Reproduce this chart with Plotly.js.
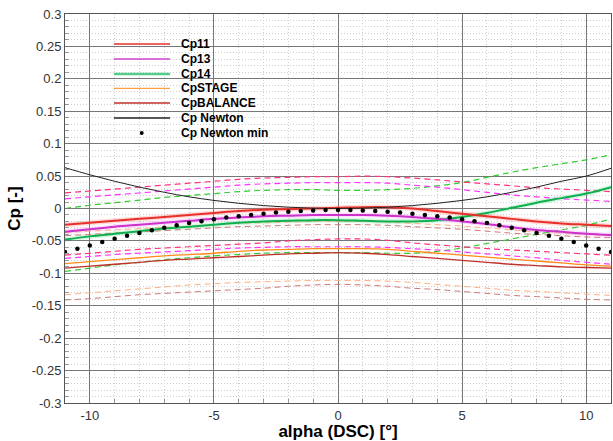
<!DOCTYPE html>
<html>
<head>
<meta charset="utf-8">
<script src="https://cdn.plot.ly/plotly-3.0.1.min.js"></script>
<style>html,body{margin:0;padding:0;background:#fff}#chart{width:613px;height:441px}</style>
</head>
<body>
<div id="chart"></div>
<script>
// alpha (DSC) [deg]
const alpha = [-11,-10,-9,-8,-7,-6,-5,-4,-3,-2,-1,0,1,2,3,4,5,6,7,8,9,10,11];

const cp11      = [-0.025,-0.022,-0.019,-0.016,-0.013,-0.010,-0.007,-0.004,-0.002,-0.001,0.000,0.001,0.002,0.002,0.000,-0.004,-0.008,-0.012,-0.016,-0.020,-0.023,-0.025,-0.027];
const cp11Up    = [0.024,0.027,0.030,0.033,0.036,0.039,0.042,0.045,0.047,0.048,0.049,0.049,0.050,0.049,0.047,0.044,0.041,0.038,0.035,0.032,0.030,0.028,0.026];
const cp11Lo    = [-0.072,-0.069,-0.066,-0.063,-0.061,-0.059,-0.057,-0.055,-0.053,-0.050,-0.048,-0.047,-0.047,-0.049,-0.053,-0.056,-0.059,-0.062,-0.064,-0.066,-0.068,-0.070,-0.072];

const cp13      = [-0.036,-0.032,-0.028,-0.025,-0.022,-0.019,-0.016,-0.014,-0.012,-0.011,-0.010,-0.010,-0.010,-0.011,-0.013,-0.016,-0.020,-0.024,-0.029,-0.033,-0.036,-0.039,-0.041];
const cp13Up    = [0.015,0.018,0.021,0.024,0.027,0.030,0.033,0.036,0.038,0.039,0.040,0.040,0.040,0.039,0.036,0.033,0.029,0.025,0.021,0.018,0.015,0.013,0.011];
const cp13Lo    = [-0.077,-0.074,-0.071,-0.069,-0.067,-0.065,-0.063,-0.061,-0.060,-0.059,-0.059,-0.059,-0.059,-0.060,-0.062,-0.064,-0.067,-0.070,-0.073,-0.076,-0.080,-0.083,-0.086];

const cp14      = [-0.048,-0.043,-0.039,-0.035,-0.031,-0.028,-0.025,-0.022,-0.020,-0.019,-0.018,-0.018,-0.019,-0.020,-0.020,-0.018,-0.013,-0.007,0.001,0.009,0.016,0.023,0.033];
const cp14Up    = [0.000,0.005,0.009,0.013,0.017,0.020,0.023,0.026,0.028,0.029,0.029,0.028,0.028,0.029,0.031,0.035,0.040,0.048,0.056,0.063,0.069,0.075,0.083];
const cp14Lo    = [-0.097,-0.092,-0.087,-0.083,-0.079,-0.076,-0.073,-0.071,-0.069,-0.068,-0.068,-0.068,-0.068,-0.069,-0.069,-0.066,-0.061,-0.054,-0.047,-0.040,-0.033,-0.026,-0.016];

const cpStage   = [-0.085,-0.082,-0.079,-0.076,-0.073,-0.071,-0.069,-0.066,-0.064,-0.063,-0.062,-0.062,-0.062,-0.063,-0.066,-0.069,-0.072,-0.075,-0.078,-0.081,-0.084,-0.087,-0.089];
const cpStageUp = [-0.037,-0.035,-0.033,-0.031,-0.029,-0.027,-0.025,-0.023,-0.022,-0.021,-0.020,-0.020,-0.020,-0.021,-0.023,-0.025,-0.027,-0.030,-0.033,-0.036,-0.038,-0.040,-0.042];
const cpStageLo = [-0.133,-0.130,-0.127,-0.124,-0.121,-0.118,-0.116,-0.114,-0.113,-0.112,-0.111,-0.111,-0.111,-0.112,-0.114,-0.117,-0.120,-0.123,-0.126,-0.128,-0.130,-0.132,-0.134];

const cpBal     = [-0.092,-0.089,-0.086,-0.083,-0.080,-0.078,-0.076,-0.074,-0.072,-0.070,-0.069,-0.068,-0.069,-0.071,-0.074,-0.077,-0.080,-0.083,-0.086,-0.088,-0.090,-0.091,-0.092];
const cpBalUp   = [-0.042,-0.040,-0.038,-0.036,-0.034,-0.032,-0.030,-0.028,-0.027,-0.026,-0.025,-0.025,-0.025,-0.026,-0.028,-0.030,-0.032,-0.035,-0.038,-0.040,-0.042,-0.044,-0.045];
const cpBalLo   = [-0.141,-0.139,-0.136,-0.133,-0.131,-0.129,-0.127,-0.125,-0.123,-0.120,-0.118,-0.117,-0.118,-0.120,-0.123,-0.125,-0.128,-0.131,-0.134,-0.136,-0.138,-0.140,-0.141];

const cpNewton  = [0.063,0.052,0.042,0.033,0.025,0.018,0.0125,0.008,0.0045,0.002,0.0005,0.000,0.0005,0.002,0.0045,0.008,0.0125,0.018,0.025,0.033,0.042,0.050,0.062];

const alphaMin  = [-11,-10.5,-10,-9.5,-9,-8.5,-8,-7.5,-7,-6.5,-6,-5.5,-5,-4.5,-4,-3.5,-3,-2.5,-2,-1.5,-1,-0.5,0,0.5,1,1.5,2,2.5,3,3.5,4,4.5,5,5.5,6,6.5,7,7.5,8,8.5,9,9.5,10,10.5,11];
const cpNewtonMin = [-0.067,-0.062,-0.057,-0.0515,-0.0465,-0.042,-0.0378,-0.0335,-0.0295,-0.026,-0.0225,-0.0195,-0.0165,-0.014,-0.0118,-0.010,-0.008,-0.0063,-0.005,-0.0037,-0.003,-0.0025,-0.0023,-0.0025,-0.003,-0.0037,-0.005,-0.0063,-0.008,-0.010,-0.0118,-0.014,-0.0165,-0.0195,-0.0225,-0.026,-0.0295,-0.0335,-0.0378,-0.042,-0.0465,-0.0515,-0.057,-0.062,-0.067];

const xTickVals = [-10,-5,0,5,10];
const xTickText = ['-10','-5','0','5','10'];
const yTickVals = [-0.3,-0.25,-0.2,-0.15,-0.1,-0.05,0,0.05,0.1,0.15,0.2,0.25,0.3];
const yTickText = ['-0.3','-0.25','-0.2','-0.15','-0.1','-0.05','0','0.05','0.1','0.15','0.2','0.25','0.3'];

const legendNames = ['Cp11','Cp13','Cp14','CpSTAGE','CpBALANCE','Cp Newton','Cp Newton min'];
const legendColors = ['#e8302a','#cc44cc','#55cc88','#ffa040','#c0302a','#222222','#000000'];

const FONT = 'Liberation Sans, Arial, sans-serif';

function line(y, color, width, dash, opacity) {
  return {x: alpha, y: y, type: 'scatter', mode: 'lines', showlegend: false, hoverinfo: 'skip',
          line: {color: color, width: width, dash: dash || 'solid', shape: 'spline'}, opacity: opacity == null ? 1 : opacity};
}
const DASH = '6px,4px';
const traces = [
  // halos (scatter of raw data)
  line(cp11, '#ff7070', 5, 'solid', 0.25),
  line(cp13, '#ff88ff', 5, 'solid', 0.25),
  line(cp14, '#60e090', 5, 'solid', 0.25),
  // dashed bounds
  line(cpStageLo, '#ffb080', 1, DASH),
  line(cpBalLo, '#cc7a7a', 1, DASH),
  line(cpStageUp, '#ffb080', 1, DASH),
  line(cpBalUp, '#cc7a7a', 1, DASH),
  line(cp14Up, '#33cc33', 1.2, DASH),
  line(cp14Lo, '#33cc33', 1.2, DASH),
  line(cp13Up, '#ff33ff', 1.2, DASH),
  line(cp13Lo, '#ff33ff', 1.2, DASH),
  line(cp11Up, '#ff3380', 1.2, DASH),
  line(cp11Lo, '#ff3380', 1.2, DASH),
  // means
  line(cpBal, '#c0302a', 1.3),
  line(cpStage, '#ff8c1a', 1.3),
  line(cp14, '#10b050', 2),
  line(cp13, '#cc33cc', 2),
  line(cp11, '#e8302a', 2),
  line(cpNewton, '#222222', 1),
  {x: alphaMin, y: cpNewtonMin, type: 'scatter', mode: 'markers', showlegend: false, hoverinfo: 'skip',
   marker: {color: '#000', size: 4.5, symbol: 'circle', line: {width: 0}}}
];

// manual legend (positions in paper coordinates)
const legY = [0.9229,0.8843,0.8458,0.8088,0.7712,0.7326,0.6941];
const shapes = [];
const annotations = [];
legendNames.forEach((n, i) => {
  if (i < 6) {
    shapes.push({type: 'line', xref: 'paper', yref: 'paper', x0: 0.0897, x1: 0.1923, y0: legY[i], y1: legY[i],
                 line: {color: legendColors[i], width: i === 2 ? 2.5 : 1.3}});
  } else {
    shapes.push({type: 'circle', xref: 'paper', yref: 'paper', x0: 0.1369, x1: 0.1441, y0: legY[i]-0.0051, y1: legY[i]+0.0051,
                 fillcolor: '#000', line: {width: 0}});
  }
  annotations.push({xref: 'paper', yref: 'paper', x: 0.2088, y: legY[i], xanchor: 'left', yanchor: 'middle',
                    text: n, showarrow: false,
                    font: {family: FONT, size: 12, color: '#000', weight: 700}});
});

const axisCommon = {
  showline: true, mirror: true, linecolor: '#555', linewidth: 1,
  showgrid: true, gridcolor: '#777', gridwidth: 1,
  zeroline: false,
  tickmode: 'array',
  ticks: 'inside', ticklen: 7, tickcolor: '#777',
  tickfont: {family: FONT, size: 13, color: '#333'},
};

const layout = {
  width: 613, height: 441,
  margin: {l: 65, r: 2, t: 14, b: 38},
  paper_bgcolor: '#fff', plot_bgcolor: '#fff',
  showlegend: false,
  xaxis: Object.assign({}, axisCommon, {
    range: [-11, 11], tickvals: xTickVals, ticktext: xTickText,
    title: {text: 'alpha (DSC) [°]', standoff: 4, font: {family: FONT, size: 17, color: '#000', weight: 700}},
    minor: {tickmode: 'linear', tick0: 0, dtick: 1, showgrid: true, gridcolor: '#cfcfcf', griddash: '1px,2px', ticks: 'inside', ticklen: 4, tickcolor: '#999'}
  }),
  yaxis: Object.assign({}, axisCommon, {
    range: [-0.3, 0.3], tickvals: yTickVals, ticktext: yTickText,
    title: {text: 'Cp [-]', standoff: 6, font: {family: FONT, size: 17, color: '#000', weight: 700}},
    minor: {tickmode: 'linear', tick0: 0, dtick: 0.01, showgrid: true, gridcolor: '#cfcfcf', griddash: '1px,2px', ticks: 'inside', ticklen: 4, tickcolor: '#999'}
  }),
  shapes: shapes,
  annotations: annotations
};

Plotly.newPlot('chart', traces, layout, {displayModeBar: false, staticPlot: true});
</script>
</body>
</html>
